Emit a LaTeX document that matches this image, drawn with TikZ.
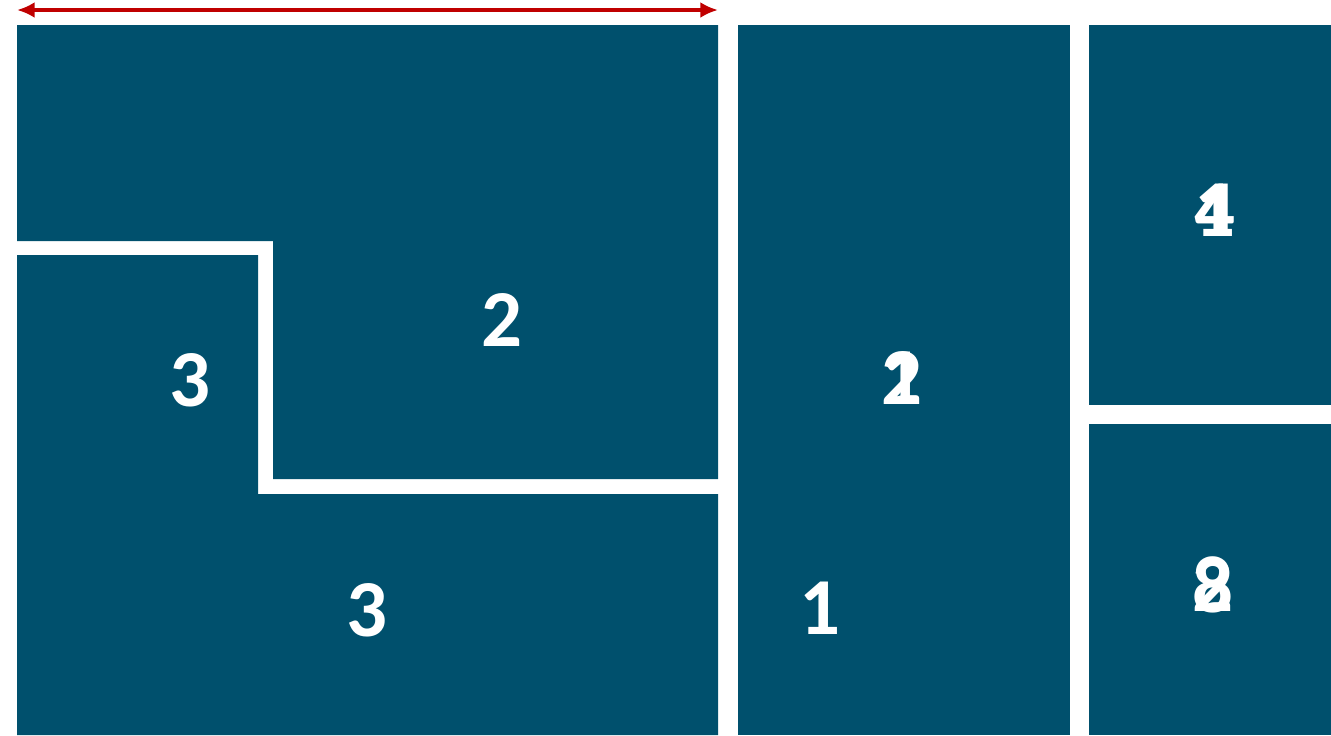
\documentclass[tikz,border=0pt]{standalone}
\usepackage{fontspec}
\setmainfont{Carlito}
\usetikzlibrary{arrows.meta}
\definecolor{tilepetrol}{RGB}{0,80,109}
\definecolor{spanred}{RGB}{192,0,0}

\begin{document}
\begin{tikzpicture}[
  x=0.02cm, y=-0.02cm,
  tile/.style={fill=tilepetrol,draw=none},
  num/.style={font=\fontsize{46}{46}\selectfont\bfseries,text=white,inner sep=0pt},
  span/.style={{Latex[length=10pt,width=9pt]}-{Latex[length=10pt,width=9pt]},line width=2.2pt,draw=spanred}
]
\useasboundingbox (0,0) rectangle (1331,735);

% left block, split into two interlocking pieces
\fill[tile] (17,25) -- (718,25) -- (718,479) -- (273,479) -- (273,241) -- (17,241) -- cycle;
\fill[tile] (17,255) -- (258,255) -- (258,494) -- (718,494) -- (718,735) -- (17,735) -- cycle;

% middle column
\fill[tile] (738,25) rectangle (1070,735);

% right column
\fill[tile] (1089,25) rectangle (1331,405);
\fill[tile] (1089,424) rectangle (1331,735);

% labels
\node[num] (topA) at (502,320) {2};
\node[num] (stepA) at (190,380) {3};
\node[num] (baseA) at (367,610) {3};
\node[num] (midA) at (902,378) {1};
\node[num] (midB) at (902,378) {2};
\node[num] (midC) at (820,608) {1};
\node[num] (upA) at (1215,210) {4};
\node[num] (upB) at (1215,210) {1};
\node[num] (lowA) at (1213,585) {2};
\node[num] (lowB) at (1213,585) {8};

% width marker
\coordinate (spanL) at (17,10);
\coordinate (spanR) at (718,10);
\draw[span] (spanL) -- (spanR);
\end{tikzpicture}
\end{document}
